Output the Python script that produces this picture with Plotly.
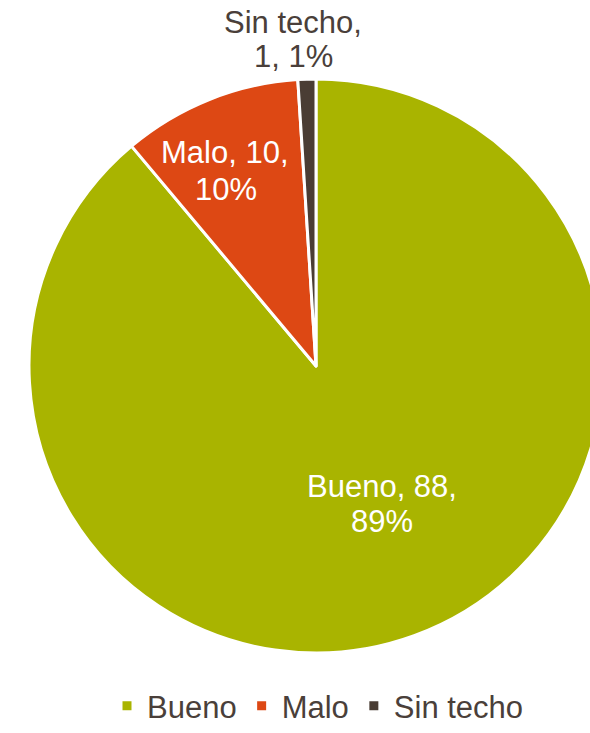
import plotly.graph_objects as go

labels = ["Bueno", "Malo", "Sin techo"]
values = [88, 10, 1]
colors = ["#A9B400", "#DD4814", "#4A3D34"]

FONT = "Liberation Sans, Arial, sans-serif"
TEXT_COL = "#4A3F3A"

fig_w, fig_h = 620, 733

total = sum(values)
pct = [round(100 * v / total) for v in values]
# data label lines, wrapped the same way as the source chart
label_lines = [
    [f"{labels[0]}, {values[0]},", f"{pct[0]}%"],
    [f"{labels[1]}, {values[1]},", f"{pct[1]}%"],
    [f"{labels[2]},", f"{values[2]}, {pct[2]}%"],
]
# label placement (pixels from top-left), one entry per line
label_pos = [
    [(382, 486), (382, 521)],
    [(225, 152), (226, 189)],
    [(293, 22), (293, 57)],
]
label_col = ["white", "white", TEXT_COL]

fig = go.Figure()
fig.add_trace(
    go.Pie(
        labels=labels,
        values=values,
        sort=False,
        direction="clockwise",
        rotation=0,
        marker=dict(colors=colors, line=dict(color="white", width=3)),
        textinfo="none",
        domain=dict(x=[29 / fig_w, 603 / fig_w], y=[80 / fig_h, 654 / fig_h]),
        hoverinfo="label+value+percent",
    )
)

for lines, pos, col in zip(label_lines, label_pos, label_col):
    for txt, (px, py) in zip(lines, pos):
        fig.add_annotation(
            x=px / fig_w, y=1 - py / fig_h, xref="paper", yref="paper",
            xanchor="center", yanchor="middle",
            text=txt, showarrow=False,
            font=dict(color=col, size=31, family=FONT),
        )

fig.update_layout(
    width=fig_w,
    height=fig_h,
    autosize=False,
    margin=dict(l=0, r=0, t=0, b=0, autoexpand=False),
    paper_bgcolor="white",
    font=dict(family=FONT, color=TEXT_COL, size=31),
    showlegend=True,
    legend=dict(
        orientation="h",
        x=318 / fig_w,
        xanchor="center",
        y=0,
        yanchor="bottom",
        yref="paper",
        font=dict(size=31, color=TEXT_COL),
    ),
)

fig.write_html(
    "out.html",
    config={"displayModeBar": False},
    post_script="document.body.style.margin='0';document.body.style.overflow='hidden';",
)
